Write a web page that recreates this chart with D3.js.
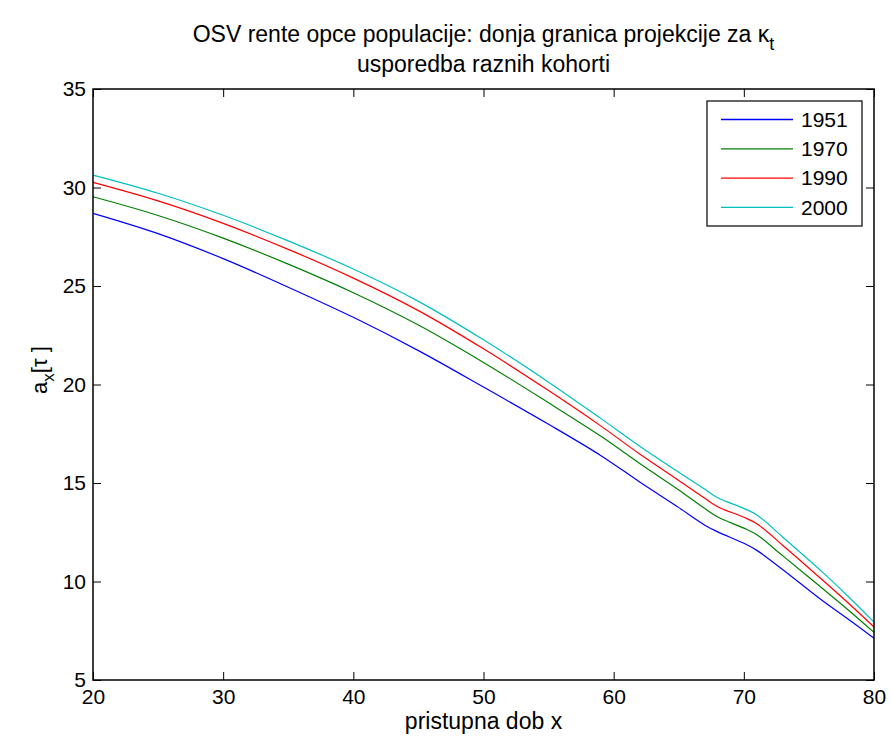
<!DOCTYPE html>
<html>
<head>
<meta charset="utf-8">
<script src="https://cdn.jsdelivr.net/npm/d3@7"></script>
<style>
  body { margin: 0; background: #fff; }
  text { font-family: "Liberation Sans", Arial, sans-serif; fill: #000; }
</style>
</head>
<body>
<div id="chart"></div>
<script>
// ages (pristupna dob x)
var ages = [20, 25, 30, 35, 40, 45, 50, 55, 59, 62, 65, 67, 68, 70, 71, 73, 76, 78, 80];

// a_x[tau] per cohort
var y1951 = [28.69, 27.66, 26.39, 24.94, 23.41, 21.72, 19.87, 17.98, 16.40, 15.05, 13.75, 12.86, 12.52, 11.94, 11.58, 10.60, 9.05, 8.10, 7.12];
var y1970 = [29.53, 28.58, 27.43, 26.11, 24.66, 23.02, 21.12, 19.07, 17.38, 15.99, 14.65, 13.70, 13.27, 12.71, 12.37, 11.30, 9.67, 8.57, 7.42];
var y1990 = [30.26, 29.32, 28.18, 26.86, 25.40, 23.75, 21.81, 19.69, 17.90, 16.47, 15.13, 14.22, 13.79, 13.26, 12.93, 11.83, 10.10, 8.92, 7.69];
var y2000 = [30.63, 29.71, 28.59, 27.29, 25.86, 24.22, 22.27, 20.12, 18.28, 16.87, 15.55, 14.68, 14.25, 13.71, 13.38, 12.25, 10.50, 9.25, 7.94];

var cohorts = ["1951", "1970", "1990", "2000"];
var colors = ["#0000ff", "#008000", "#ff0000", "#00bfbf"];
var xTicks = [20, 30, 40, 50, 60, 70, 80];
var yTicks = [5, 10, 15, 20, 25, 30, 35];

var series = [y1951, y1970, y1990, y2000].map(function(vals, i) {
    return {
        name: cohorts[i],
        color: colors[i],
        values: vals.map(function(v, j) { return { x: ages[j], y: v }; })
    };
});

var W = 891, H = 744;
var margin = { top: 89, right: 17, bottom: 64, left: 93 };
var width = W - margin.left - margin.right;
var height = H - margin.top - margin.bottom;
var font = "'Liberation Sans', Arial, sans-serif";

var svg = d3.select("#chart").append("svg")
    .attr("width", W)
    .attr("height", H);

var g = svg.append("g")
    .attr("transform", "translate(" + margin.left + "," + margin.top + ")");

var x = d3.scaleLinear().domain([20, 80]).range([0, width]);
var y = d3.scaleLinear().domain([5, 35]).range([height, 0]);

var line = d3.line()
    .x(function(d) { return x(d.x); })
    .y(function(d) { return y(d.y); })
    .curve(d3.curveCatmullRom.alpha(0.5));

g.selectAll(".series")
    .data(series)
    .enter()
    .append("path")
    .attr("class", "series")
    .attr("fill", "none")
    .attr("stroke", function(d) { return d.color; })
    .attr("stroke-width", 1.2)
    .attr("d", function(d) { return line(d.values); });

// axes, ticks inward on all sides
var tickLen = 8;
function styleAxis(sel) {
    sel.select(".domain").remove();
    sel.selectAll("line").attr("stroke", "#000").attr("stroke-width", 1);
    sel.selectAll("text").style("font-size", "21px").style("font-family", font);
}

g.append("g")
    .attr("transform", "translate(0," + height + ")")
    .call(d3.axisBottom(x).tickValues(xTicks).tickSizeInner(-tickLen).tickSizeOuter(0).tickPadding(9))
    .call(styleAxis);

g.append("g")
    .call(d3.axisTop(x).tickValues(xTicks).tickSizeInner(-tickLen).tickSizeOuter(0).tickFormat(""))
    .call(styleAxis);

g.append("g")
    .call(d3.axisLeft(y).tickValues(yTicks).tickSizeInner(-tickLen).tickSizeOuter(0).tickPadding(7))
    .call(styleAxis);

g.append("g")
    .attr("transform", "translate(" + width + ",0)")
    .call(d3.axisRight(y).tickValues(yTicks).tickSizeInner(-tickLen).tickSizeOuter(0).tickFormat(""))
    .call(styleAxis);

g.append("rect")
    .attr("width", width)
    .attr("height", height)
    .attr("fill", "none")
    .attr("stroke", "#000")
    .attr("stroke-width", 1.5);

// title
var title = svg.append("text")
    .attr("x", margin.left + width / 2)
    .attr("y", 42)
    .attr("text-anchor", "middle")
    .style("font-size", "23px");
title.append("tspan").text("OSV rente opce populacije: donja granica projekcije za κ");
title.append("tspan").attr("dy", 8).style("font-size", "18px").text("t");

svg.append("text")
    .attr("x", margin.left + width / 2)
    .attr("y", 72)
    .attr("text-anchor", "middle")
    .style("font-size", "23px")
    .text("usporedba raznih kohorti");

// axis labels
svg.append("text")
    .attr("x", margin.left + width / 2)
    .attr("y", 729)
    .attr("text-anchor", "middle")
    .style("font-size", "23px")
    .text("pristupna dob x");

var yl = svg.append("text")
    .attr("transform", "translate(47,370) rotate(-90)")
    .attr("text-anchor", "middle")
    .style("font-size", "22px");
yl.append("tspan").text("a");
yl.append("tspan").attr("dy", 7).style("font-size", "17px").text("x");
yl.append("tspan").attr("dy", -7).text("[τ ]");

// legend
var legend = svg.append("g").attr("transform", "translate(707,101)");
legend.append("rect")
    .attr("width", 155)
    .attr("height", 125)
    .attr("fill", "#fff")
    .attr("stroke", "#000")
    .attr("stroke-width", 1.2);

var items = legend.selectAll(".item")
    .data(series)
    .enter()
    .append("g")
    .attr("transform", function(d, i) { return "translate(0," + (18.5 + i * 29.3) + ")"; });

items.append("line")
    .attr("x1", 14).attr("x2", 86)
    .attr("stroke", function(d) { return d.color; })
    .attr("stroke-width", 1.3);

items.append("text")
    .attr("x", 94)
    .attr("dy", "0.35em")
    .style("font-size", "21px")
    .text(function(d) { return d.name; });
</script>
</body>
</html>
